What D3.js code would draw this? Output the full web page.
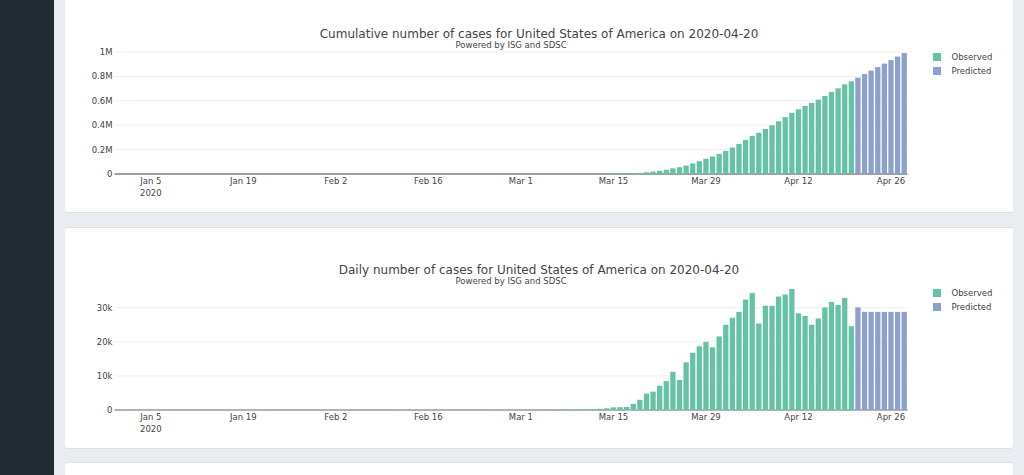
<!DOCTYPE html>
<html lang="en">
<head>
<meta charset="utf-8">
<title>Cases for United States of America</title>
<script src="https://d3js.org/d3.v7.min.js"></script>
<style>
  body { margin: 0; background: #e9ecf0; overflow: hidden; }
  svg { display: block; font-family: "DejaVu Sans", Verdana, sans-serif; }
</style>
</head>
<body>
<svg id="page" width="1024" height="475"></svg>
<script>
// days shown: 2019-12-31 .. 2020-04-28, observed up to 2020-04-20
var days = d3.utcDay.range(Date.UTC(2019, 11, 31), Date.UTC(2020, 3, 29));

var dailyObserved = [
  0,
  0,0,0,0,0,0,0,0,0,0, 0,0,0,0,0,0,0,0,0,0, 1,0,0,1,0,3,0,0,0,0, 1,
  1,1,3,0,0,1,0,0,0,0, 1,0,1,0,0,0,0,0,0,0, 0,19,0,0,18,0,1,0,6,
  8,20,14,22,34,74,105,95,121,200, 271,287,351,511,777,823,887,1800,3000,4800,
  5400,7100,8500,11200,8800,14000,16800,18700,20000,18400, 21600,
  25000,27100,28800,32400,34300,25400,30600,30600,33300,33900,
  35500,28400,27600,25000,26900,30100,31700,30800,32900,24600
];
var dailyPredicted = [30100, 28800, 28800, 28800, 28800, 28800, 28800, 28800];

var cumulativeObserved = [
  0,
  0,0,0,0,0,0,0,0,0,0, 0,0,0,0,0,0,0,0,0,0, 1,1,1,2,2,5,5,5,5,5, 6,
  7,8,11,11,11,12,12,12,12,12, 13,13,14,14,14,14,14,14,14,14, 14,33,33,33,51,51,52,52,58,
  66,86,100,122,156,230,335,430,551,751, 1022,1309,1660,2171,2948,3771,4658,6458,9458,14258,
  19658,26758,35258,46458,55258,69258,86058,104758,124758,143158, 164758,
  189758,216858,245658,278058,312358,337758,368358,398958,432258,466158,
  501658,530058,557658,582658,609558,639658,671358,702158,735058,759658
];
var cumulativePredicted = [789758, 818558, 847358, 876158, 904958, 933758, 962558, 991358];

var cumTicks = [0, 200000, 400000, 600000, 800000, 1000000];
var cumTickLabels = ["0", "0.2M", "0.4M", "0.6M", "0.8M", "1M"];
var dailyTicks = [0, 10000, 20000, 30000];
var dailyTickLabels = ["0", "10k", "20k", "30k"];

var xTicks = [[2020,0,5], [2020,0,19], [2020,1,2], [2020,1,16], [2020,2,1],
              [2020,2,15], [2020,2,29], [2020,3,12], [2020,3,26]];
var xTickLabels = ["Jan 5", "Jan 19", "Feb 2", "Feb 16", "Mar 1", "Mar 15", "Mar 29", "Apr 12", "Apr 26"];

var seriesNames = ["Observed", "Predicted"];
var seriesColors = ["#66c2a5", "#8da0cb"];

var svg = d3.select("#page");

// page frame: sidebar and cards
svg.append("rect").attr("x", 0).attr("y", 0).attr("width", 54).attr("height", 475).attr("fill", "#222b31");
[[-10, 222], [228, 220], [463, 40]].forEach(function(c) {
  svg.append("rect").attr("x", 65).attr("y", c[0] - 1).attr("width", 948).attr("height", c[1] + 2)
     .attr("rx", 3).attr("fill", "#dde1e6");
  svg.append("rect").attr("x", 65).attr("y", c[0]).attr("width", 948).attr("height", c[1])
     .attr("rx", 3).attr("fill", "#ffffff");
});

var x = d3.scaleUtc()
  .domain([Date.UTC(2019, 11, 30, 12), Date.UTC(2020, 3, 28, 12)])
  .range([114.5, 907.5]);
var barW = (x(days[1]) - x(days[0])) * 0.8;

function drawChart(oy, title, observed, predicted, yTicks, yLabels, zeroColor, zeroWidth) {
  var g = svg.append("g").attr("transform", "translate(0," + oy + ")");
  var values = observed.concat(predicted);
  var y = d3.scaleLinear().domain([0, d3.max(values) * 1.05]).range([174, 47]);

  // grid
  g.selectAll(".grid").data(yTicks.slice(1)).enter().append("line")
    .attr("x1", x.range()[0]).attr("x2", x.range()[1])
    .attr("y1", function(d) { return y(d); }).attr("y2", function(d) { return y(d); })
    .attr("stroke", "#eeeeee").attr("stroke-width", 1);

  g.append("line")
    .attr("x1", x.range()[0]).attr("x2", x.range()[1])
    .attr("y1", y(0)).attr("y2", y(0))
    .attr("stroke", zeroColor).attr("stroke-width", zeroWidth);

  // bars
  g.selectAll(".bar").data(values).enter().append("rect")
    .attr("x", function(d, i) { return x(days[i]) - barW / 2; })
    .attr("y", function(d) { return y(d); })
    .attr("width", barW)
    .attr("height", function(d) { return y(0) - y(d); })
    .attr("fill", function(d, i) { return i < observed.length ? seriesColors[0] : seriesColors[1]; });

  // y axis labels
  g.selectAll(".ylab").data(yTicks).enter().append("text")
    .attr("x", 112.5).attr("y", function(d) { return y(d); })
    .attr("dy", "0.35em").attr("text-anchor", "end")
    .attr("font-size", 8.5).attr("fill", "#444")
    .text(function(d, i) { return yLabels[i]; });

  // x axis labels
  g.selectAll(".xlab").data(xTicks).enter().append("text")
    .attr("x", function(d) { return x(Date.UTC(d[0], d[1], d[2])); }).attr("y", 184)
    .attr("text-anchor", "middle").attr("font-size", 8.5).attr("fill", "#444")
    .text(function(d, i) { return xTickLabels[i]; });
  g.append("text")
    .attr("x", x(Date.UTC(2020, 0, 5))).attr("y", 196)
    .attr("text-anchor", "middle").attr("font-size", 8.5).attr("fill", "#444")
    .text("2020");

  // titles
  g.append("text").attr("x", 539).attr("y", 38).attr("text-anchor", "middle")
    .attr("font-size", 12).attr("fill", "#444").text(title);
  g.append("text").attr("x", 511).attr("y", 48).attr("text-anchor", "middle")
    .attr("font-size", 8.5).attr("fill", "#444").text("Powered by ISG and SDSC");

  // legend
  var leg = g.selectAll(".leg").data(seriesNames).enter().append("g")
    .attr("transform", function(d, i) { return "translate(933," + (53 + i * 14) + ")"; });
  leg.append("rect").attr("width", 8).attr("height", 8)
    .attr("fill", function(d, i) { return seriesColors[i]; });
  leg.append("text").attr("x", 18.5).attr("y", 7).attr("font-size", 8.5).attr("fill", "#444")
    .text(function(d) { return d; });
}

drawChart(0, "Cumulative number of cases for United States of America on 2020-04-20",
  cumulativeObserved, cumulativePredicted, cumTicks, cumTickLabels, "#444", 1);
drawChart(236, "Daily number of cases for United States of America on 2020-04-20",
  dailyObserved, dailyPredicted, dailyTicks, dailyTickLabels, "#9a9a9a", 1.5);
</script>
</body>
</html>
